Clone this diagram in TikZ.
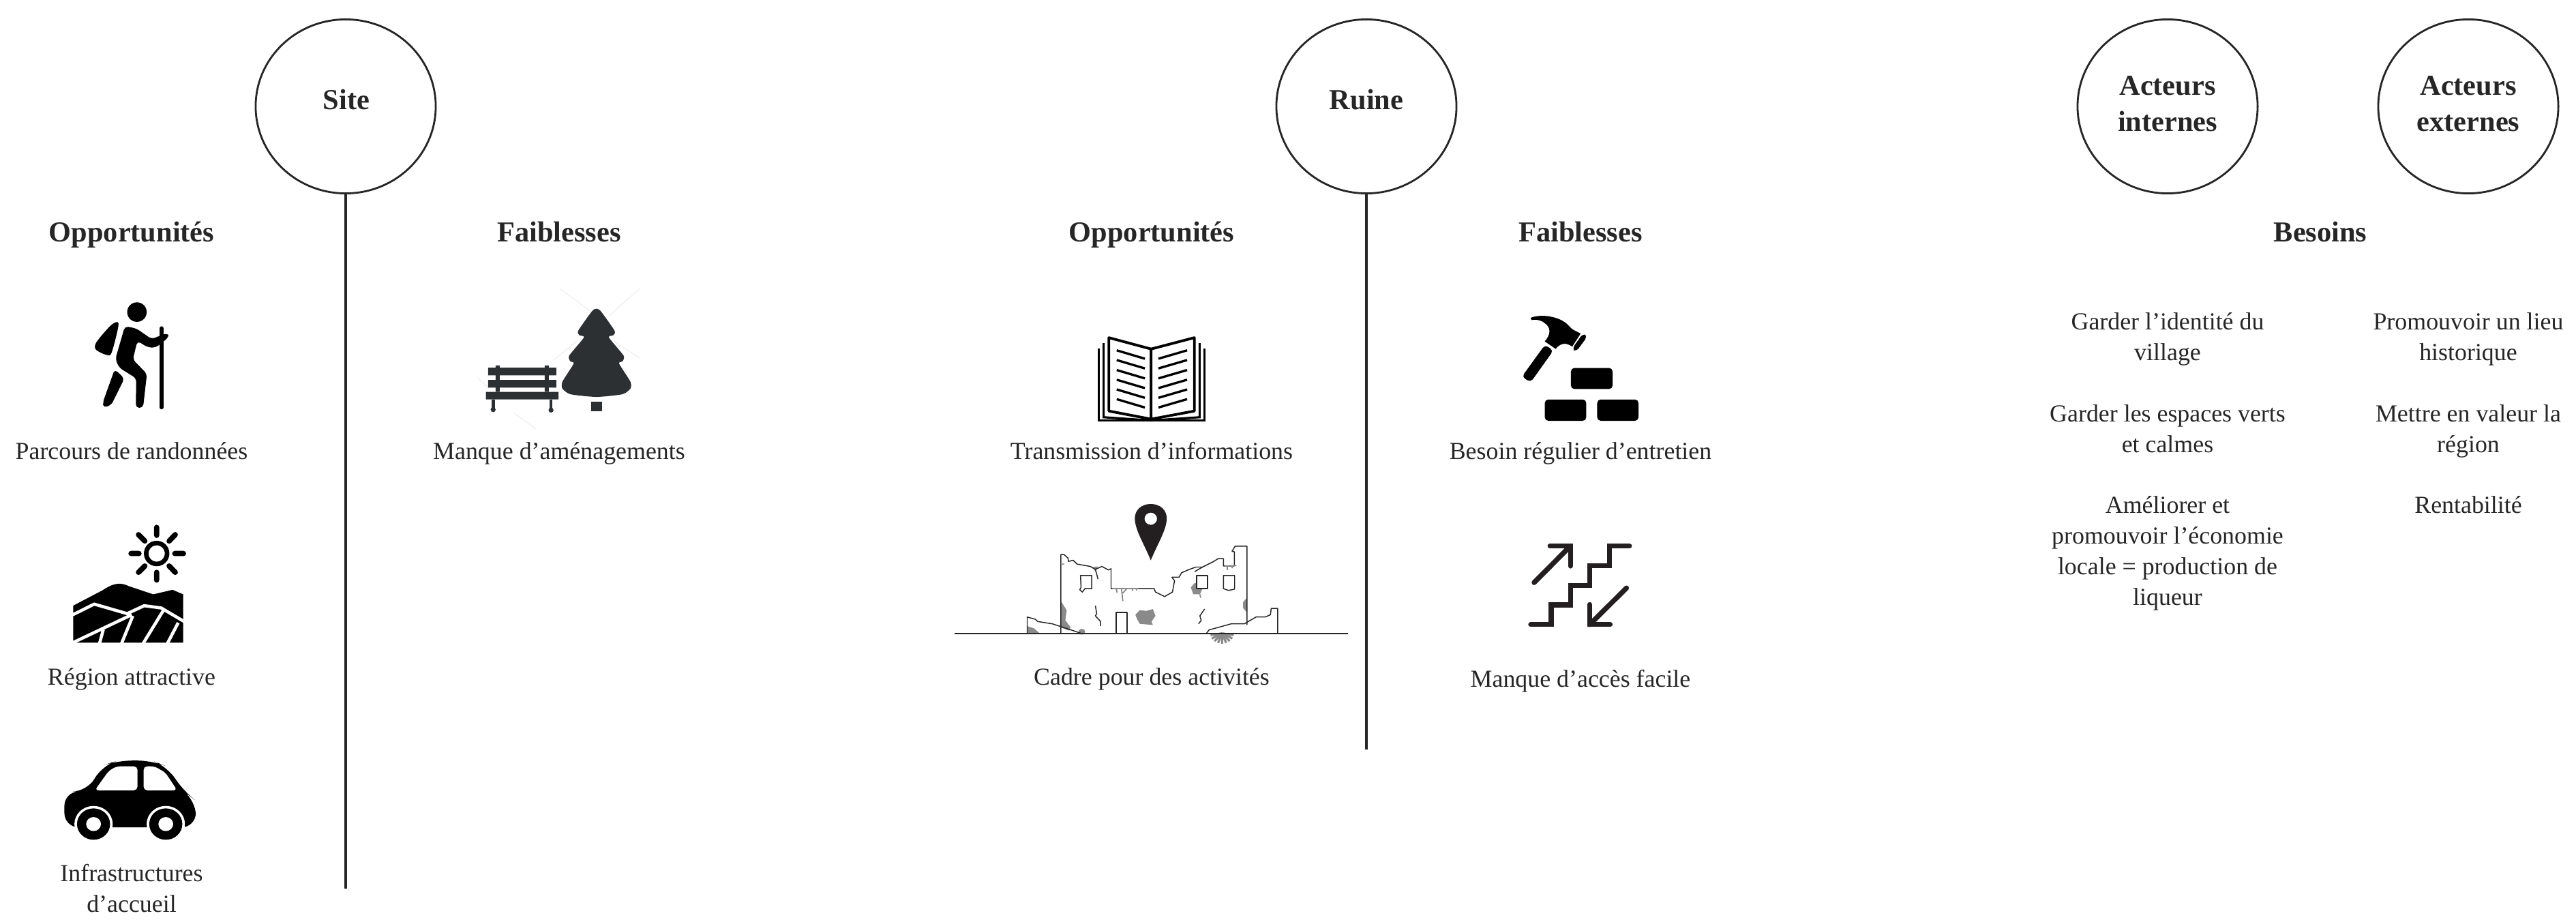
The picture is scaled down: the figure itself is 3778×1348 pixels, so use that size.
\documentclass[tikz,border=0pt]{standalone}
\usepackage{fontspec}
\setmainfont{Liberation Serif}
\usetikzlibrary{shapes.geometric}
\definecolor{ink}{HTML}{262626}
\definecolor{iconc}{HTML}{000000}
\definecolor{slate}{HTML}{2D3033}
\definecolor{pinink}{HTML}{231F20}
\definecolor{patchc}{HTML}{8A8A8A}
\definecolor{wmark}{HTML}{F0F0F0}
\newdimen\mypx \mypx=0.2845pt
\tikzset{
  ringnode/.style={draw=ink,line width=0.8pt,ellipse,minimum width=264\mypx,minimum height=255\mypx,inner sep=0pt},
  axisline/.style={draw=ink,line width=1.1pt},
  headtext/.style={font=\fontsize{12.05}{15}\selectfont\bfseries,text=ink,align=center,inner sep=0pt,execute at begin node=\strut,execute at end node=\strut},
  bodytext/.style={font=\fontsize{10.2}{12.8}\selectfont,text=ink,align=center,inner sep=0pt,execute at begin node=\strut,execute at end node=\strut},
  three/.style={x=0.003333cm,y=-0.003333cm},
  ruinline/.style={draw=ink,line width=0.42pt,line join=round},
  crack/.style={draw=patchc,line width=0.5pt},
  stairline/.style={draw=pinink,line width=2.1pt},
}
\begin{document}
\begin{tikzpicture}[x=0.01cm,y=-0.01cm]
\useasboundingbox (0,0) rectangle (3778,1348);
% circles
\node[ringnode] (site) at (507,156) {};
\node[ringnode] (ruine) at (2004,156) {};
\node[ringnode] (aint) at (3179,156) {};
\node[ringnode] (aext) at (3620,156) {};
\node[headtext] (tsite) at (508,150) {Site};
\node[headtext] (truine) at (2004,150) {Ruine};
\node[headtext] (taint) at (3179,160) {Acteurs\\internes};
\node[headtext] (taext) at (3620,160) {Acteurs\\externes};
% axes
\coordinate (siteend) at (507,1303);
\coordinate (ruineend) at (2004,1099);
\draw[axisline] (site.south) -- (siteend);
\draw[axisline] (ruine.south) -- (ruineend);
% headings
\node[headtext] (h1) at (193,344) {Opportunités};
\node[headtext] (h2) at (820,344) {Faiblesses};
\node[headtext] (h3) at (1689,344) {Opportunités};
\node[headtext] (h4) at (2318,344) {Faiblesses};
\node[headtext] (h5) at (3403,344) {Besoins};
% body
\node[bodytext] (b1) at (193,664) {Parcours de randonnées};
\node[bodytext] (b2) at (820,664) {Manque d’aménagements};
\node[bodytext] (b3) at (193,995) {Région attractive};
\node[bodytext] (b4) at (193,1309) {Infrastructures\\d’accueil};
\node[bodytext] (b5) at (1689,664) {Transmission d’informations};
\node[bodytext] (b6) at (2318,664) {Besoin régulier d’entretien};
\node[bodytext] (b7) at (1689,995) {Cadre pour des activités};
\node[bodytext] (b8) at (2318,998) {Manque d’accès facile};
\node[bodytext] (n1) at (3179,500) {Garder l’identité du\\village};
\node[bodytext] (n2) at (3179,635) {Garder les espaces verts\\et calmes};
\node[bodytext] (n3) at (3179,814) {Améliorer et\\promouvoir l’économie\\locale = production de\\liqueur};
\node[bodytext] (n4) at (3620,500) {Promouvoir un lieu\\historique};
\node[bodytext] (n5) at (3620,635) {Mettre en valeur la\\région};
\node[bodytext] (n6) at (3620,743) {Rentabilité};
% hiker
\begin{scope}[shift={(100,420)},three,fill=iconc]
\fill (303,113) circle (43);
\fill plot[smooth cycle,tension=0.5] coordinates {(222,165)(190,170)(125,245)(122,278)(170,302)(192,290)};
\fill[rounded corners=1.5pt] (250,175)--(300,185)--(368,232)--(410,215)--(442,205)--(442,225)--(385,270)--(350,268)--(305,240)--(285,322)--(347,385)--(330,535)--(298,535)--(300,405)--(225,358)--(208,320)--cycle;
\fill[rounded corners=1.5pt] (205,365)--(248,405)--(190,522)--(155,535)--(153,510)--cycle;
\draw[line width=1.85pt,line cap=round,draw=iconc] (411,185)--(411,532);
\end{scope}
% sun and hills
\begin{scope}[shift={(80,760)},three]
\draw[line width=1.9pt] (450,155) circle (46);
\draw[line width=2.2pt,line cap=round] (450,40)--(450,75) (450,238)--(450,272) (337,155)--(372,155) (530,155)--(568,155)
 (370,72)--(398,100) (532,72)--(505,100) (370,238)--(398,210) (532,238)--(505,210);
\fill (82,385)--(210,318) .. controls (260,285) and (290,280) .. (330,300) -- (435,335)--(520,315)--(567,335)--(567,548)--(82,548)--cycle;
\draw[white,line width=1.3pt] (70,430)--(175,378)--(320,420)--(395,385)--(470,395)--(580,460)
 (70,553)--(340,425) (198,552)--(215,490) (295,552)--(345,430) (390,552)--(480,405) (497,552)--(545,460);
\end{scope}
% car
\begin{scope}[shift={(0,400)},x=0.006378cm,y=-0.006046cm]
\fill[rounded corners=6pt] (148,1345)--(148,1258)--(200,1258)--(235,1195)--(270,1183)--(350,1183)--(385,1198)--(422,1258)--(450,1280)--(450,1345)--cycle;
\fill[white,rounded corners=1.5pt] (218,1255)--(250,1208)--(268,1197)--(316,1197)--(316,1255)--cycle;
\fill[white,rounded corners=1.5pt] (330,1197)--(355,1197)--(380,1212)--(407,1255)--(330,1255)--cycle;
\foreach \cx in {215,381}{
 \fill[white] (\cx,1337) circle (44);
 \fill (\cx,1337) circle (38);
 \fill[white] (\cx,1337) circle (17);
}
\end{scope}
% bench and tree
\begin{scope}[shift={(680,400)},three]
\draw[wmark,line width=0.4pt] (425,70)--(560,170) (775,70)--(640,190) (660,300)--(775,375) (395,385)--(500,300) (60,460)--(110,510) (225,620)--(320,690);
\fill[slate] plot[smooth cycle,tension=0.35] coordinates {(585,158)(605,170)(665,255)(660,275)(640,285)(705,365)(700,390)(685,400)(735,480)(735,510)(700,535)(585,547)(470,535)(435,510)(435,480)(485,400)(470,390)(465,365)(530,285)(510,275)(505,255)(565,170)};
\fill[slate] (563,568) rectangle (610,610);
\fill[slate] (108,418) rectangle (408,452) (108,472) rectangle (408,506) (98,525) rectangle (418,558);
\fill[slate] (141,408) rectangle (159,525) (357,408) rectangle (375,525);
\draw[slate,line width=1.3pt] (130,558)--(130,605) (385,558)--(385,605);
\fill[slate] (130,603) circle (11) (385,605) circle (11);
\end{scope}
% book
\begin{scope}[shift={(1380,420)},x=0.00765cm,y=-0.00395cm]
\draw[iconc,line width=0.9pt] (303,230)--(303,497)--(505,497)--(505,230);
\draw[iconc,line width=0.9pt] (312,210)--(312,485)--(403,497)--(496,485)--(496,210);
\filldraw[fill=white,draw=iconc,line width=1.1pt,line join=round] (322,190)--(403,232)--(403,492)--(322,462)--cycle;
\filldraw[fill=white,draw=iconc,line width=1.1pt,line join=round] (486,190)--(403,232)--(403,492)--(486,462)--cycle;
\foreach \d in {0,36,73,109,145,181}{
 \draw[iconc,line width=0.95pt] (337,237+\d)--(391,268+\d);
 \draw[iconc,line width=0.95pt] (472,237+\d)--(417,268+\d);
}
\end{scope}
% hammer and bricks
\begin{scope}[shift={(2200,440)},three]
\fill (135,78) .. controls (180,60) and (260,70) .. (300,110) .. controls (320,135) and (335,135) .. (355,148) -- (318,205) .. controls (290,185) and (265,190) .. (245,215) -- (197,182) .. controls (225,150) and (225,120) .. (195,100) .. controls (175,85) and (150,85) .. (138,88) -- cycle;
\fill[rounded corners=1.5pt] (198,197)--(235,222)--(135,362)--(96,338)--cycle;
\fill[rounded corners=1.5pt] (366,146)--(385,160)--(335,228)--(317,215)--cycle;
\fill[rounded corners=1.5pt] (312,299) rectangle (496,392);
\fill[rounded corners=1.5pt] (197,438) rectangle (380,532);
\fill[rounded corners=1.5pt] (428,438) rectangle (610,532);
\end{scope}
% stairs
\begin{scope}[shift={(2220,770)},three]
\draw[stairline,line cap=round] (75,438)-|(165,352)-|(250,265)-|(335,178)-|(423,92)--(510,92);
\draw[stairline,line cap=round] (90,253)--(250,92);
\draw[stairline,line cap=round] (160,92)--(250,92)--(250,180);
\draw[stairline,line cap=round] (497,277)--(335,438);
\draw[stairline,line cap=round] (335,350)--(335,438)--(425,438);
\end{scope}
% ruin with pin
\begin{scope}[shift={(1390,720)},x=0.003827cm,y=-0.003333cm]
\fill[pinink,even odd rule] (777,305) .. controls (750,230) and (716,170) .. (716,120) .. controls (716,85) and (740,57) .. (777,57) .. controls (814,57) and (838,85) .. (838,120) .. controls (838,170) and (804,230) .. (777,305) -- cycle (777,122) ellipse (24 and 27);
\fill[patchc] (718,545)--(735,525)--(760,528)--(785,520)--(795,550)--(780,575)--(785,590)--(735,585)--(725,565)--cycle;
\fill[patchc] (930,425)--(945,405)--(952,405)--(952,430)--(975,430)--(965,455)--(940,455)--cycle;
\fill[patchc] (433,485)--(455,525)--(450,570)--(470,600)--(465,615)--(430,600)--cycle;
\fill[patchc] (304,595)--(330,605)--(352,627)--(304,627)--cycle;
\fill[patchc] (1145,470)--(1130,490)--(1130,515)--(1145,535)--cycle;
\fill[patchc] (555,335)--(575,332)--(565,355)--cycle;
\fill[patchc] (513,620) circle (13);
\foreach \a in {10,30,...,170}{\draw[patchc,line width=0.9pt] (1050,627)--++(\a:45);}
\draw[ruinline] (433,627)--(433,280)--(445,280)--(460,295)--(462,310)--(480,305)--(495,322)--(545,332)--(565,345)--(590,332)--(615,348)--(625,342)--(625,430)--(790,430)--(795,445)--(830,465)--(860,445)--(868,395)--(858,380)--(885,380)--(895,360)--(925,345)--(950,335)--(975,335)--(1015,312)--(1035,298)--(1055,298)--(1055,330)--(1097,330)--(1097,268)--(1088,265)--(1100,243)--(1145,243)--(1145,590);
\draw[ruinline] (990,627)--(1000,612)--(1085,585)--(1135,585)--(1180,555)--(1215,555)--(1235,545)--(1238,517)--(1263,517)--(1263,627);
\draw[ruinline] (304,627)--(304,555)--(335,565)--(345,575)--(400,585)--(440,600)--(480,615)--(510,627);
\draw[ruinline] (508,372)--(551,372)--(551,430)--(525,430)--(515,445)--(505,435)--(510,425)--cycle;
\draw[ruinline,fill=white] (952,372)--(994,372)--(994,430)--(952,430)--cycle;
\draw[ruinline] (1055,372)--(1098,372)--(1098,432)--(1075,438)--(1055,430)--cycle;
\draw[ruinline] (645,627)--(645,535)--(686,535)--(686,627);
\draw[ruinline] (565,505)--(570,540)--(565,550)--(585,575)--(585,595);
\draw[ruinline] (983,520)--(965,550)--(970,570)--(960,585);
\draw[ruinline] (565,345)--(575,388);
\draw[ruinline] (945,355)--(975,335);
\draw[crack] (630,430)--(730,430) (645,430)--(648,448) (665,430)--(670,485) (685,430)--(670,450) (705,430)--(708,440) (722,430)--(722,438);
\draw[crack] (1060,330)--(1105,328) (1070,330)--(1070,348) (1090,330)--(1088,340);
\draw[crack] (433,322)--(445,322) (965,455)--(968,470);
\draw[ink,line width=0.65pt] (25,628)--(1533,628);
\end{scope}
\end{tikzpicture}
\end{document}
